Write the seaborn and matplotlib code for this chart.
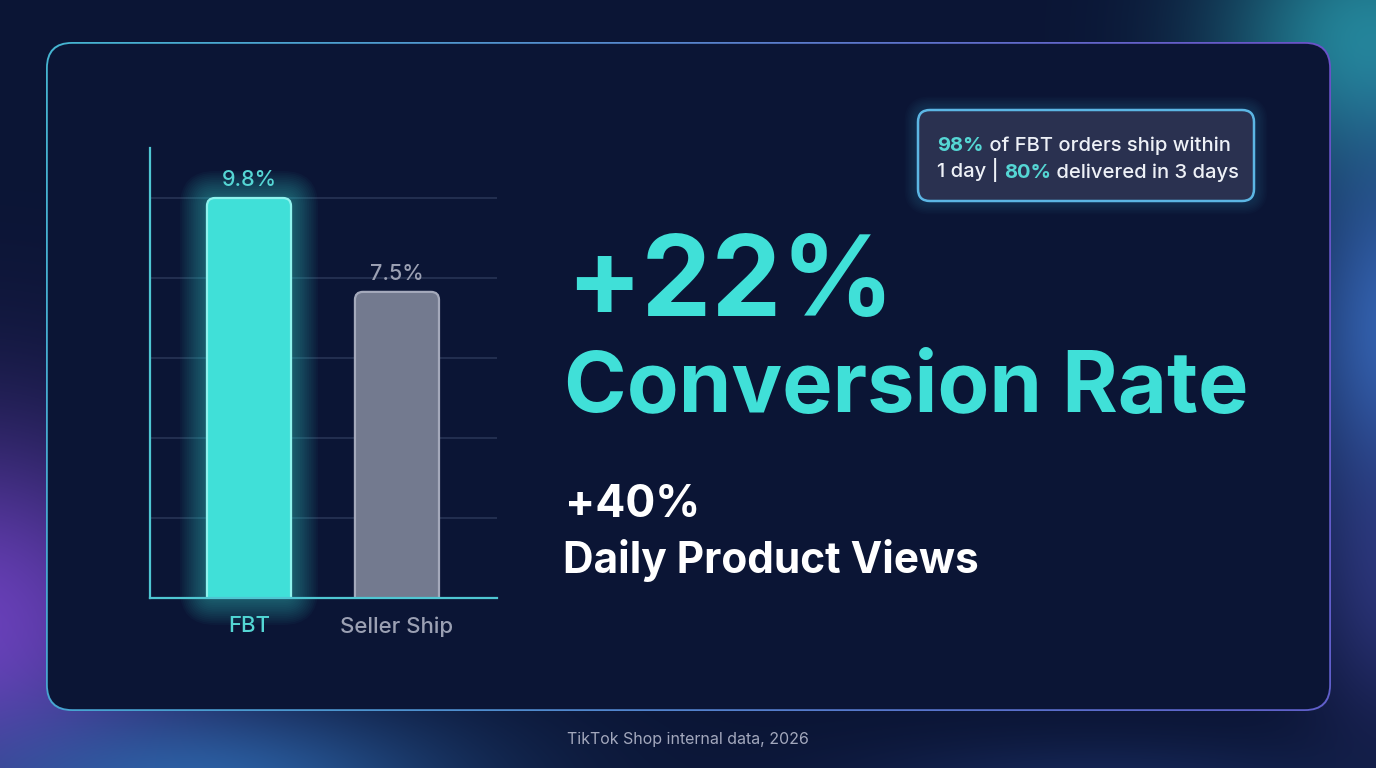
import numpy as np
import matplotlib
matplotlib.use("Agg")
import matplotlib.pyplot as plt
import seaborn as sns
from matplotlib.patches import FancyBboxPatch
from matplotlib.colors import to_rgb

# ---------------- data ----------------
categories = ["FBT", "Seller Ship"]
conversion = [9.8, 7.5]
value_labels = ["9.8%", "7.5%"]
headline_value = "+22%"
headline_label = "Conversion Rate"
sub_value = "+40%"
sub_label = "Daily Product Views"
callout_line1 = [("98%", True), (" of FBT orders ship within", False)]
callout_line2 = [("1 day | ", False), ("80%", True), (" delivered in 3 days", False)]
source_note = "TikTok Shop internal data, 2026"

# ---------------- style ----------------
W, H = 1376, 768
BG = "#0b1535"
TEAL = "#40e0d8"
TEAL_TXT = "#55d6d4"
GRAY = "#737a8f"
GRAY_TXT = "#9ba0b3"

sns.set_theme(style="dark")
plt.rcParams['font.family'] = ['Inter', 'DejaVu Sans']

fig = plt.figure(figsize=(W / 100, H / 100), dpi=100)
fig.patch.set_facecolor(BG)

bg = fig.add_axes([0, 0, 1, 1])
bg.set_xlim(0, W)
bg.set_ylim(H, 0)
bg.axis('off')

# background glows
yy, xx = np.mgrid[0:H, 0:W].astype(float)
img = np.zeros((H, W, 3))
img[:] = to_rgb(BG)


def add_blob(img, cx, cy, sx, sy, color, strength):
    g = np.exp(-(((xx - cx) / sx) ** 2 + ((yy - cy) / sy) ** 2)) * strength
    c = np.array(to_rgb(color))
    return img * (1 - g[..., None]) + c * g[..., None]


img = add_blob(img, 1370, 40, 150, 140, "#2592a2", 0.9)
img = add_blob(img, 1395, 330, 100, 190, "#3a6fc4", 0.85)
img = add_blob(img, 1390, 580, 80, 150, "#4346a6", 0.5)
img = add_blob(img, -30, 630, 210, 200, "#6e42c0", 0.95)
img = add_blob(img, 200, 790, 260, 90, "#2f6db5", 0.85)
img = add_blob(img, 1100, 790, 250, 50, "#2a4a9a", 0.35)
bg.imshow(img, extent=(0, W, H, 0), origin='upper', aspect='auto', zorder=0)

# panel with gradient border
px0, py0, px1, py1 = 46, 42, 1331, 711
outer = FancyBboxPatch((px0, py0), px1 - px0, py1 - py0,
                       boxstyle="round,pad=0,rounding_size=26",
                       facecolor='none', edgecolor='none', zorder=1)
bg.add_patch(outer)
gx = np.linspace(0, 1, 300)
gy = np.linspace(0, 1, 200)
GX, GY = np.meshgrid(gx, gy)
c_left = np.array(to_rgb("#46b6d2"))
c_right = np.array(to_rgb("#6a52c8"))
c_bot = np.array(to_rgb("#4a7fd0"))
t = GX[..., None]
grad = c_left * (1 - t) + c_right * t
grad = grad * (1 - 0.3 * GY[..., None]) + c_bot * 0.3 * GY[..., None]
gim = bg.imshow(grad, extent=(px0, px1, py1, py0), origin='upper', aspect='auto', zorder=1)
gim.set_clip_path(outer)
inner = FancyBboxPatch((px0 + 1.8, py0 + 1.8), px1 - px0 - 3.6, py1 - py0 - 3.6,
                       boxstyle="round,pad=0,rounding_size=24.5",
                       facecolor="#0b1535", edgecolor='none', zorder=2)
bg.add_patch(inner)

# ---------------- bar chart ----------------
ax_l, ax_r, ax_t, ax_b = 150, 497, 148, 598
ax = fig.add_axes([ax_l / W, (H - ax_b) / H, (ax_r - ax_l) / W, (ax_b - ax_t) / H])
ax.set_facecolor('none')
ax.patch.set_alpha(0)

sns.barplot(x=categories, y=conversion, hue=categories, palette=[TEAL, GRAY],
            width=0.568, saturation=1, legend=False, ax=ax, zorder=3)

xlim = (-0.669, 1.676)
ymax = max(conversion) * 1.125
ax.set_xlim(*xlim)
ax.set_ylim(0, ymax)

ppx = (ax_r - ax_l) / (xlim[1] - xlim[0])
ppy = (ax_b - ax_t) / ymax
aspect = ppx / ppy
r = 8 / ppx

edge_cols = ["#8ff3ee", "#a4a9bb"]
for i, bar in enumerate(ax.patches):
    x, w, h = bar.get_x(), bar.get_width(), bar.get_height()
    fc = bar.get_facecolor()
    bar.set_visible(False)
    if i == 0:
        for k in range(1, 16):
            pad = k * 1.8 / ppx
            glow = FancyBboxPatch((x, 0), w, h,
                                  boxstyle=f"round,pad={pad},rounding_size={r + pad}",
                                  mutation_aspect=aspect, facecolor=TEAL,
                                  edgecolor='none', alpha=0.032, zorder=1.5,
                                  clip_on=False)
            ax.add_patch(glow)
    extra = 0.6
    rb = FancyBboxPatch((x, -extra), w, h + extra,
                        boxstyle=f"round,pad=0,rounding_size={r}",
                        mutation_aspect=aspect, facecolor=fc,
                        edgecolor=edge_cols[i], linewidth=1.6, zorder=3)
    ax.add_patch(rb)

# value labels
label_cols = [TEAL_TXT, GRAY_TXT]
for cont, lab, col in zip(ax.containers, value_labels, label_cols):
    ax.bar_label(cont, labels=[lab], padding=6, fontsize=15.5, color=col,
                 fontweight='medium')

# grid / spines
ax.set_yticks(np.linspace(0, max(conversion), 6))
ax.yaxis.grid(True, color="#2a3658", linewidth=1.1, zorder=0.5)
ax.xaxis.grid(False)
ax.set_axisbelow(True)
ax.tick_params(axis='y', length=0, labelleft=False)
ax.tick_params(axis='x', length=0, pad=13, labelsize=16)
for lbl, col in zip(ax.get_xticklabels(), [TEAL_TXT, GRAY_TXT]):
    lbl.set_color(col)
    lbl.set_fontweight('medium')
ax.set_xlabel("")
ax.set_ylabel("")
for s in ["top", "right"]:
    ax.spines[s].set_visible(False)
for s in ["left", "bottom"]:
    ax.spines[s].set_visible(True)
    ax.spines[s].set_color("#4fc6d2")
    ax.spines[s].set_linewidth(1.6)
    ax.spines[s].set_zorder(4)

# ---------------- headline texts ----------------
bg.text(566, 316, headline_value, color=TEAL, fontsize=80, fontweight='bold',
        ha='left', va='baseline', zorder=5)
bg.text(564, 412, headline_label, color=TEAL, fontsize=61, fontweight='bold',
        ha='left', va='baseline', zorder=5)
bg.text(565, 517, sub_value, color='white', fontsize=32, fontweight='bold',
        ha='left', va='baseline', zorder=5)
bg.text(563, 573, sub_label, color='white', fontsize=30.5, fontweight='bold',
        ha='left', va='baseline', zorder=5)

# ---------------- callout box ----------------
bx0, by0, bx1, by1 = 918, 110, 1254, 201
for k in range(1, 10):
    g = FancyBboxPatch((bx0 - k * 1.5, by0 - k * 1.5), bx1 - bx0 + k * 3, by1 - by0 + k * 3,
                       boxstyle=f"round,pad=0,rounding_size={12 + k * 1.5}",
                       facecolor="#3aa6dc", edgecolor='none', alpha=0.025, zorder=3)
    bg.add_patch(g)
box = FancyBboxPatch((bx0, by0), bx1 - bx0, by1 - by0,
                     boxstyle="round,pad=0,rounding_size=12",
                     facecolor="#2a3150", edgecolor="#5cb6e4", linewidth=1.8, zorder=4)
bg.add_patch(box)


def rich_line(parts, x, y):
    prev = None
    for txt, hi in parts:
        kw = dict(color=TEAL_TXT if hi else "#eef1f7", fontsize=14.5,
                  fontweight='bold' if hi else 'medium', zorder=5)
        if prev is None:
            prev = bg.text(x, y, txt, ha='left', va='baseline', **kw)
        else:
            prev = bg.annotate(txt, xy=(1, 0), xycoords=prev, ha='left', va='bottom', **kw)


rich_line(callout_line1, 937, 151)
rich_line(callout_line2, 937, 177)

# ---------------- source ----------------
bg.text(688, 744, source_note, color="#a3a8bd", fontsize=11.5, ha='center',
        va='baseline', zorder=5)

fig.savefig("out.png", dpi=100, facecolor=fig.get_facecolor())
